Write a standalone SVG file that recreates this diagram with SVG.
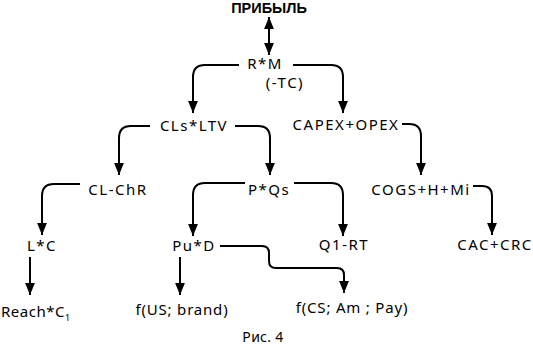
<svg xmlns="http://www.w3.org/2000/svg" width="533" height="354" viewBox="0 0 533 354">
<style>
text{font-family:"Noto Sans","DejaVu Sans",sans-serif;font-size:15px;fill:#000;text-anchor:middle;letter-spacing:1.5px}
.t{font-family:"Liberation Sans",Arial,sans-serif;font-weight:bold;font-size:14.5px;letter-spacing:0}
.b{letter-spacing:0.8px}
.cap{font-size:14px;letter-spacing:0.3px}
.c path{fill:none;stroke:#000;stroke-width:2}
</style>
<defs>
<marker id="ah" markerUnits="userSpaceOnUse" markerWidth="12" markerHeight="12" refX="11" refY="5" orient="auto-start-reverse" viewBox="0 0 11 10">
<path d="M0,0.5 L11,5 L0,9.5 Z" fill="#000"/>
</marker>
</defs>
<rect width="533" height="354" fill="#fff"/>
<g class="c">
<path d="M269 17 V55" marker-start="url(#ah)" marker-end="url(#ah)"/>
<path d="M239 65 H205 Q193 65 193 77 V113" marker-end="url(#ah)"/>
<path d="M293 65 H331 Q343 65 343 77 V113" marker-end="url(#ah)"/>
<path d="M150 126 H131 Q119 126 119 138 V175" marker-end="url(#ah)"/>
<path d="M235 126 H258 Q270 126 270 138 V175" marker-end="url(#ah)"/>
<path d="M402 124 H409 Q421 124 421 136 V175" marker-end="url(#ah)"/>
<path d="M80 184 H54 Q42 184 42 196 V235" marker-end="url(#ah)"/>
<path d="M245 183 H205 Q193 183 193 195 V236" marker-end="url(#ah)"/>
<path d="M294 183 H331 Q343 183 343 195 V236" marker-end="url(#ah)"/>
<path d="M473 186 H482 Q492 186 492 196 V235" marker-end="url(#ah)"/>
<path d="M30 257 V295" marker-end="url(#ah)"/>
<path d="M180 257 V295" marker-end="url(#ah)"/>
<path d="M220 246 H262 Q269 246 269 253 V261 Q269 268 276 268 H337 Q344 268 344 275 V293" marker-end="url(#ah)"/>
</g>
<g id="n-profit"><text class="t" x="269" y="13">ПРИБЫЛЬ</text></g>
<g id="n-rm"><text x="265" y="69">R*M</text><text x="285" y="88">(-TC)</text></g>
<g id="n-clsltv"><text x="194" y="131">CLs*LTV</text></g>
<g id="n-capex"><text x="346" y="130">CAPEX+OPEX</text></g>
<g id="n-clchr"><text x="118" y="195">CL-ChR</text></g>
<g id="n-pqs"><text x="269" y="195">P*Qs</text></g>
<g id="n-cogs"><text x="421" y="195">COGS+H+Mi</text></g>
<g id="n-lc"><text x="42" y="251">L*C</text></g>
<g id="n-pud"><text x="194" y="251">Pu*D</text></g>
<g id="n-q1rt"><text x="344" y="250">Q1-RT</text></g>
<g id="n-caccrc"><text x="495" y="250">CAC+CRC</text></g>
<g id="n-reach"><text class="b" x="1" y="317" style="text-anchor:start;letter-spacing:0.5px">Reach*C<tspan font-size="9" dy="4">1</tspan></text></g>
<g id="n-fus"><text class="b" x="182" y="315">f(US; brand)</text></g>
<g id="n-fcs"><text class="b" x="352" y="313">f(CS; Am ; Pay)</text></g>
<g id="caption"><text class="cap" x="263" y="342">Рис. 4</text></g>
</svg>
